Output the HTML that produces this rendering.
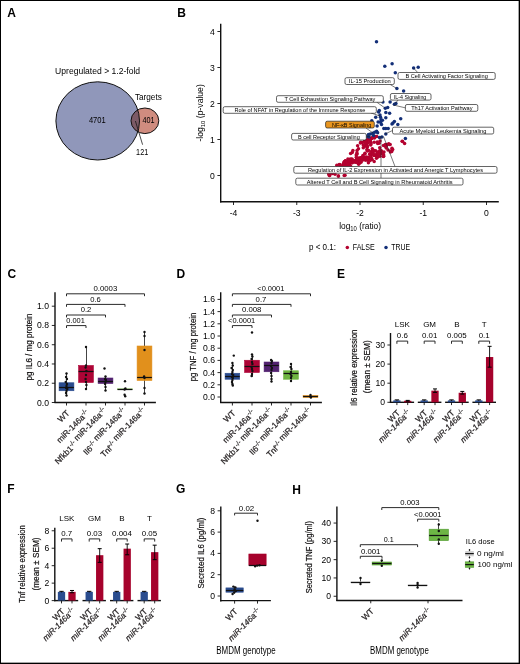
<!DOCTYPE html>
<html><head><meta charset="utf-8"><style>
html,body{margin:0;padding:0;background:#fff;}
body{width:520px;height:664px;overflow:hidden;}
svg{display:block;font-family:"Liberation Sans", sans-serif;}
svg{will-change:transform;}
</style></head><body>
<svg width="520" height="664" viewBox="0 0 520 664">
<rect x="0" y="0" width="520" height="664" fill="#fff"/>
<text x="7.30" y="17.00" font-size="12" font-weight="bold" fill="#000">A</text>
<text x="55.10" y="73.60" font-size="8.3" textLength="85.00" lengthAdjust="spacingAndGlyphs">Upregulated &gt; 1.2-fold</text>
<defs><clipPath id="cbig"><ellipse cx="97.7" cy="120.9" rx="41.8" ry="39.1"/></clipPath></defs>
<ellipse cx="97.7" cy="120.9" rx="41.8" ry="39.1" fill="#9097ba"/>
<ellipse cx="144.9" cy="120.8" rx="13.9" ry="12.8" fill="#d08c7f"/>
<ellipse cx="144.9" cy="120.8" rx="13.9" ry="12.8" fill="#7c5a66" clip-path="url(#cbig)"/>
<ellipse cx="97.7" cy="120.9" rx="41.8" ry="39.1" fill="none" stroke="#111" stroke-width="1.0"/>
<ellipse cx="144.9" cy="120.8" rx="13.9" ry="12.8" fill="none" stroke="#111" stroke-width="1.0"/>
<text x="88.90" y="123.20" font-size="8.7" textLength="16.80" lengthAdjust="spacingAndGlyphs">4701</text>
<text x="142.40" y="123.10" font-size="8.7" textLength="12.10" lengthAdjust="spacingAndGlyphs">401</text>
<text x="134.90" y="99.50" font-size="8.2" textLength="26.90" lengthAdjust="spacingAndGlyphs">Targets</text>
<text x="136.10" y="155.20" font-size="8.7" textLength="12.10" lengthAdjust="spacingAndGlyphs">121</text>
<line x1="135.40" y1="121.00" x2="142.60" y2="144.70" stroke="#111" stroke-width="0.75"/>
<text x="177.30" y="17.40" font-size="12" font-weight="bold" fill="#000">B</text>
<line x1="220.70" y1="23.70" x2="220.70" y2="202.40" stroke="#111111" stroke-width="1.4"/>
<line x1="220.05" y1="201.75" x2="498.80" y2="201.75" stroke="#111111" stroke-width="1.4"/>
<line x1="217.40" y1="175.50" x2="220.70" y2="175.50" stroke="#111111" stroke-width="0.9"/>
<text x="212.30" y="178.50" font-size="8.6" text-anchor="middle">0</text>
<line x1="217.40" y1="139.50" x2="220.70" y2="139.50" stroke="#111111" stroke-width="0.9"/>
<text x="212.30" y="142.50" font-size="8.6" text-anchor="middle">1</text>
<line x1="217.40" y1="103.50" x2="220.70" y2="103.50" stroke="#111111" stroke-width="0.9"/>
<text x="212.30" y="106.50" font-size="8.6" text-anchor="middle">2</text>
<line x1="217.40" y1="67.50" x2="220.70" y2="67.50" stroke="#111111" stroke-width="0.9"/>
<text x="212.30" y="70.50" font-size="8.6" text-anchor="middle">3</text>
<line x1="217.40" y1="31.50" x2="220.70" y2="31.50" stroke="#111111" stroke-width="0.9"/>
<text x="212.30" y="34.50" font-size="8.6" text-anchor="middle">4</text>
<line x1="233.50" y1="201.75" x2="233.50" y2="205.00" stroke="#111111" stroke-width="0.9"/>
<text x="233.50" y="216.20" font-size="8.6" text-anchor="middle">-4</text>
<line x1="296.75" y1="201.75" x2="296.75" y2="205.00" stroke="#111111" stroke-width="0.9"/>
<text x="296.75" y="216.20" font-size="8.6" text-anchor="middle">-3</text>
<line x1="360.00" y1="201.75" x2="360.00" y2="205.00" stroke="#111111" stroke-width="0.9"/>
<text x="360.00" y="216.20" font-size="8.6" text-anchor="middle">-2</text>
<line x1="423.25" y1="201.75" x2="423.25" y2="205.00" stroke="#111111" stroke-width="0.9"/>
<text x="423.25" y="216.20" font-size="8.6" text-anchor="middle">-1</text>
<line x1="486.50" y1="201.75" x2="486.50" y2="205.00" stroke="#111111" stroke-width="0.9"/>
<text x="486.50" y="216.20" font-size="8.6" text-anchor="middle">0</text>
<text x="203.00" y="112.90" font-size="8.6" text-anchor="middle" transform="rotate(-90 203.00 112.90)">-log<tspan font-size="6" dy="1.6">10</tspan><tspan dy="-1.6"> (p-value)</tspan></text>
<text x="339.20" y="228.80" font-size="9.4" textLength="41.80" lengthAdjust="spacingAndGlyphs">log<tspan font-size="6.6" dy="2.0">10</tspan><tspan dy="-2.0"> (ratio)</tspan></text>
<text x="309.00" y="250.30" font-size="8.2" textLength="27.00" lengthAdjust="spacingAndGlyphs">p &lt; 0.1:</text>
<circle cx="347.30" cy="247.60" r="1.75" fill="#b3022f"/>
<text x="352.70" y="250.30" font-size="8.2" textLength="22.10" lengthAdjust="spacingAndGlyphs">FALSE</text>
<circle cx="386.00" cy="247.60" r="1.75" fill="#132f78"/>
<text x="391.20" y="250.30" font-size="8.2" textLength="18.80" lengthAdjust="spacingAndGlyphs">TRUE</text>
<circle cx="356.53" cy="162.31" r="1.75" fill="#b3022f"/>
<circle cx="346.71" cy="166.18" r="1.75" fill="#b3022f"/>
<circle cx="364.28" cy="157.30" r="1.75" fill="#b3022f"/>
<circle cx="363.47" cy="158.72" r="1.75" fill="#b3022f"/>
<circle cx="344.26" cy="163.27" r="1.75" fill="#b3022f"/>
<circle cx="346.73" cy="163.70" r="1.75" fill="#b3022f"/>
<circle cx="360.14" cy="159.72" r="1.75" fill="#b3022f"/>
<circle cx="351.62" cy="160.71" r="1.75" fill="#b3022f"/>
<circle cx="368.95" cy="159.38" r="1.75" fill="#b3022f"/>
<circle cx="358.58" cy="158.61" r="1.75" fill="#b3022f"/>
<circle cx="383.35" cy="156.45" r="1.75" fill="#b3022f"/>
<circle cx="354.98" cy="162.13" r="1.75" fill="#b3022f"/>
<circle cx="349.21" cy="164.09" r="1.75" fill="#b3022f"/>
<circle cx="376.04" cy="155.57" r="1.75" fill="#b3022f"/>
<circle cx="349.38" cy="159.51" r="1.75" fill="#b3022f"/>
<circle cx="357.42" cy="158.31" r="1.75" fill="#b3022f"/>
<circle cx="365.13" cy="158.36" r="1.75" fill="#b3022f"/>
<circle cx="351.33" cy="162.22" r="1.75" fill="#b3022f"/>
<circle cx="369.68" cy="154.28" r="1.75" fill="#b3022f"/>
<circle cx="366.68" cy="158.02" r="1.75" fill="#b3022f"/>
<circle cx="360.75" cy="157.63" r="1.75" fill="#b3022f"/>
<circle cx="372.12" cy="159.48" r="1.75" fill="#b3022f"/>
<circle cx="352.02" cy="159.06" r="1.75" fill="#b3022f"/>
<circle cx="377.63" cy="152.35" r="1.75" fill="#b3022f"/>
<circle cx="371.72" cy="153.93" r="1.75" fill="#b3022f"/>
<circle cx="349.59" cy="169.00" r="1.75" fill="#b3022f"/>
<circle cx="359.74" cy="159.33" r="1.75" fill="#b3022f"/>
<circle cx="362.16" cy="157.13" r="1.75" fill="#b3022f"/>
<circle cx="343.99" cy="162.17" r="1.75" fill="#b3022f"/>
<circle cx="364.90" cy="154.09" r="1.75" fill="#b3022f"/>
<circle cx="377.61" cy="152.24" r="1.75" fill="#b3022f"/>
<circle cx="367.75" cy="160.19" r="1.75" fill="#b3022f"/>
<circle cx="364.93" cy="153.21" r="1.75" fill="#b3022f"/>
<circle cx="381.14" cy="153.83" r="1.75" fill="#b3022f"/>
<circle cx="361.84" cy="158.17" r="1.75" fill="#b3022f"/>
<circle cx="370.85" cy="155.06" r="1.75" fill="#b3022f"/>
<circle cx="370.16" cy="160.49" r="1.75" fill="#b3022f"/>
<circle cx="354.33" cy="160.77" r="1.75" fill="#b3022f"/>
<circle cx="358.36" cy="159.45" r="1.75" fill="#b3022f"/>
<circle cx="361.34" cy="158.32" r="1.75" fill="#b3022f"/>
<circle cx="349.90" cy="162.97" r="1.75" fill="#b3022f"/>
<circle cx="373.89" cy="155.41" r="1.75" fill="#b3022f"/>
<circle cx="348.18" cy="162.92" r="1.75" fill="#b3022f"/>
<circle cx="378.54" cy="155.79" r="1.75" fill="#b3022f"/>
<circle cx="345.40" cy="160.86" r="1.75" fill="#b3022f"/>
<circle cx="378.61" cy="154.33" r="1.75" fill="#b3022f"/>
<circle cx="376.14" cy="155.42" r="1.75" fill="#b3022f"/>
<circle cx="359.19" cy="157.97" r="1.75" fill="#b3022f"/>
<circle cx="358.64" cy="164.14" r="1.75" fill="#b3022f"/>
<circle cx="347.89" cy="158.94" r="1.75" fill="#b3022f"/>
<circle cx="350.11" cy="162.48" r="1.75" fill="#b3022f"/>
<circle cx="362.90" cy="160.03" r="1.75" fill="#b3022f"/>
<circle cx="366.56" cy="157.12" r="1.75" fill="#b3022f"/>
<circle cx="359.82" cy="159.46" r="1.75" fill="#b3022f"/>
<circle cx="356.22" cy="154.92" r="1.75" fill="#b3022f"/>
<circle cx="369.93" cy="153.67" r="1.75" fill="#b3022f"/>
<circle cx="362.86" cy="155.62" r="1.75" fill="#b3022f"/>
<circle cx="344.47" cy="161.60" r="1.75" fill="#b3022f"/>
<circle cx="379.24" cy="154.09" r="1.75" fill="#b3022f"/>
<circle cx="373.54" cy="150.13" r="1.75" fill="#b3022f"/>
<circle cx="358.44" cy="158.77" r="1.75" fill="#b3022f"/>
<circle cx="368.56" cy="157.18" r="1.75" fill="#b3022f"/>
<circle cx="345.92" cy="165.09" r="1.75" fill="#b3022f"/>
<circle cx="349.68" cy="163.09" r="1.75" fill="#b3022f"/>
<circle cx="356.62" cy="160.29" r="1.75" fill="#b3022f"/>
<circle cx="349.06" cy="162.62" r="1.75" fill="#b3022f"/>
<circle cx="346.96" cy="162.90" r="1.75" fill="#b3022f"/>
<circle cx="378.09" cy="153.95" r="1.75" fill="#b3022f"/>
<circle cx="367.87" cy="157.82" r="1.75" fill="#b3022f"/>
<circle cx="357.32" cy="161.50" r="1.75" fill="#b3022f"/>
<circle cx="358.52" cy="163.01" r="1.75" fill="#b3022f"/>
<circle cx="383.65" cy="155.06" r="1.75" fill="#b3022f"/>
<circle cx="361.35" cy="157.75" r="1.75" fill="#b3022f"/>
<circle cx="347.12" cy="163.32" r="1.75" fill="#b3022f"/>
<circle cx="356.59" cy="159.84" r="1.75" fill="#b3022f"/>
<circle cx="350.74" cy="166.59" r="1.75" fill="#b3022f"/>
<circle cx="344.73" cy="166.78" r="1.75" fill="#b3022f"/>
<circle cx="348.61" cy="161.85" r="1.75" fill="#b3022f"/>
<circle cx="365.56" cy="160.36" r="1.75" fill="#b3022f"/>
<circle cx="382.28" cy="152.72" r="1.75" fill="#b3022f"/>
<circle cx="377.36" cy="153.14" r="1.75" fill="#b3022f"/>
<circle cx="357.16" cy="158.31" r="1.75" fill="#b3022f"/>
<circle cx="349.80" cy="162.78" r="1.75" fill="#b3022f"/>
<circle cx="373.32" cy="152.08" r="1.75" fill="#b3022f"/>
<circle cx="356.40" cy="161.06" r="1.75" fill="#b3022f"/>
<circle cx="383.63" cy="156.14" r="1.75" fill="#b3022f"/>
<circle cx="377.54" cy="155.24" r="1.75" fill="#b3022f"/>
<circle cx="371.41" cy="151.45" r="1.75" fill="#b3022f"/>
<circle cx="351.43" cy="159.62" r="1.75" fill="#b3022f"/>
<circle cx="344.09" cy="163.91" r="1.75" fill="#b3022f"/>
<circle cx="344.02" cy="163.84" r="1.75" fill="#b3022f"/>
<circle cx="371.22" cy="157.51" r="1.75" fill="#b3022f"/>
<circle cx="379.74" cy="147.66" r="1.75" fill="#b3022f"/>
<circle cx="383.05" cy="153.83" r="1.75" fill="#b3022f"/>
<circle cx="380.88" cy="151.54" r="1.75" fill="#b3022f"/>
<circle cx="352.44" cy="162.83" r="1.75" fill="#b3022f"/>
<circle cx="351.14" cy="162.91" r="1.75" fill="#b3022f"/>
<circle cx="379.93" cy="156.19" r="1.75" fill="#b3022f"/>
<circle cx="375.63" cy="150.83" r="1.75" fill="#b3022f"/>
<circle cx="375.11" cy="154.92" r="1.75" fill="#b3022f"/>
<circle cx="345.59" cy="160.88" r="1.75" fill="#b3022f"/>
<circle cx="373.02" cy="150.65" r="1.75" fill="#b3022f"/>
<circle cx="372.58" cy="153.76" r="1.75" fill="#b3022f"/>
<circle cx="374.62" cy="154.83" r="1.75" fill="#b3022f"/>
<circle cx="356.88" cy="162.18" r="1.75" fill="#b3022f"/>
<circle cx="357.09" cy="153.99" r="1.75" fill="#b3022f"/>
<circle cx="360.10" cy="162.81" r="1.75" fill="#b3022f"/>
<circle cx="349.44" cy="161.22" r="1.75" fill="#b3022f"/>
<circle cx="348.95" cy="165.68" r="1.75" fill="#b3022f"/>
<circle cx="376.47" cy="158.29" r="1.75" fill="#b3022f"/>
<circle cx="349.74" cy="165.52" r="1.75" fill="#b3022f"/>
<circle cx="367.59" cy="150.83" r="1.75" fill="#b3022f"/>
<circle cx="356.67" cy="159.01" r="1.75" fill="#b3022f"/>
<circle cx="343.46" cy="163.97" r="1.75" fill="#b3022f"/>
<circle cx="381.34" cy="150.78" r="1.75" fill="#b3022f"/>
<circle cx="379.67" cy="150.66" r="1.75" fill="#b3022f"/>
<circle cx="361.24" cy="161.92" r="1.75" fill="#b3022f"/>
<circle cx="350.52" cy="158.90" r="1.75" fill="#b3022f"/>
<circle cx="352.94" cy="160.92" r="1.75" fill="#b3022f"/>
<circle cx="366.95" cy="158.74" r="1.75" fill="#b3022f"/>
<circle cx="353.06" cy="160.24" r="1.75" fill="#b3022f"/>
<circle cx="379.58" cy="153.69" r="1.75" fill="#b3022f"/>
<circle cx="356.27" cy="157.27" r="1.75" fill="#b3022f"/>
<circle cx="379.41" cy="153.95" r="1.75" fill="#b3022f"/>
<circle cx="360.53" cy="161.49" r="1.75" fill="#b3022f"/>
<circle cx="365.87" cy="145.37" r="1.75" fill="#b3022f"/>
<circle cx="367.03" cy="149.17" r="1.75" fill="#b3022f"/>
<circle cx="357.05" cy="150.45" r="1.75" fill="#b3022f"/>
<circle cx="352.26" cy="152.38" r="1.75" fill="#b3022f"/>
<circle cx="364.30" cy="145.95" r="1.75" fill="#b3022f"/>
<circle cx="370.89" cy="142.87" r="1.75" fill="#b3022f"/>
<circle cx="365.74" cy="146.12" r="1.75" fill="#b3022f"/>
<circle cx="367.08" cy="146.67" r="1.75" fill="#b3022f"/>
<circle cx="366.74" cy="145.36" r="1.75" fill="#b3022f"/>
<circle cx="358.47" cy="148.86" r="1.75" fill="#b3022f"/>
<circle cx="367.12" cy="150.74" r="1.75" fill="#b3022f"/>
<circle cx="367.28" cy="146.69" r="1.75" fill="#b3022f"/>
<circle cx="362.13" cy="142.61" r="1.75" fill="#b3022f"/>
<circle cx="367.54" cy="143.18" r="1.75" fill="#b3022f"/>
<circle cx="370.67" cy="144.98" r="1.75" fill="#b3022f"/>
<circle cx="363.28" cy="144.97" r="1.75" fill="#b3022f"/>
<circle cx="377.22" cy="142.05" r="1.75" fill="#b3022f"/>
<circle cx="372.30" cy="148.84" r="1.75" fill="#b3022f"/>
<circle cx="357.62" cy="145.64" r="1.75" fill="#b3022f"/>
<circle cx="368.60" cy="150.44" r="1.75" fill="#b3022f"/>
<circle cx="385.76" cy="145.21" r="1.75" fill="#b3022f"/>
<circle cx="385.33" cy="145.44" r="1.75" fill="#b3022f"/>
<circle cx="385.79" cy="146.84" r="1.75" fill="#b3022f"/>
<circle cx="385.42" cy="144.55" r="1.75" fill="#b3022f"/>
<circle cx="392.69" cy="149.55" r="1.75" fill="#b3022f"/>
<circle cx="385.54" cy="145.73" r="1.75" fill="#b3022f"/>
<circle cx="386.56" cy="144.38" r="1.75" fill="#b3022f"/>
<circle cx="390.38" cy="151.96" r="1.75" fill="#b3022f"/>
<circle cx="391.76" cy="151.51" r="1.75" fill="#b3022f"/>
<circle cx="390.17" cy="144.38" r="1.75" fill="#b3022f"/>
<circle cx="390.42" cy="151.10" r="1.75" fill="#b3022f"/>
<circle cx="386.37" cy="144.89" r="1.75" fill="#b3022f"/>
<circle cx="386.22" cy="147.94" r="1.75" fill="#b3022f"/>
<circle cx="386.23" cy="145.62" r="1.75" fill="#b3022f"/>
<circle cx="364.82" cy="142.56" r="1.75" fill="#b3022f"/>
<circle cx="371.13" cy="138.31" r="1.75" fill="#b3022f"/>
<circle cx="368.34" cy="139.59" r="1.75" fill="#b3022f"/>
<circle cx="371.97" cy="137.78" r="1.75" fill="#b3022f"/>
<circle cx="376.80" cy="136.54" r="1.75" fill="#b3022f"/>
<circle cx="374.43" cy="137.98" r="1.75" fill="#b3022f"/>
<circle cx="367.42" cy="139.71" r="1.75" fill="#b3022f"/>
<circle cx="364.57" cy="140.99" r="1.75" fill="#b3022f"/>
<circle cx="365.38" cy="139.53" r="1.75" fill="#b3022f"/>
<circle cx="370.11" cy="140.88" r="1.75" fill="#b3022f"/>
<circle cx="366.98" cy="138.73" r="1.75" fill="#b3022f"/>
<circle cx="366.39" cy="141.62" r="1.75" fill="#b3022f"/>
<circle cx="340.60" cy="166.99" r="1.75" fill="#b3022f"/>
<circle cx="329.71" cy="175.59" r="1.75" fill="#b3022f"/>
<circle cx="335.85" cy="171.19" r="1.75" fill="#b3022f"/>
<circle cx="329.29" cy="175.59" r="1.75" fill="#b3022f"/>
<circle cx="342.69" cy="166.16" r="1.75" fill="#b3022f"/>
<circle cx="328.82" cy="174.02" r="1.75" fill="#b3022f"/>
<circle cx="344.07" cy="165.91" r="1.75" fill="#b3022f"/>
<circle cx="335.64" cy="169.28" r="1.75" fill="#b3022f"/>
<circle cx="346.23" cy="167.15" r="1.75" fill="#b3022f"/>
<circle cx="332.90" cy="173.10" r="1.75" fill="#b3022f"/>
<circle cx="332.34" cy="173.44" r="1.75" fill="#b3022f"/>
<circle cx="329.30" cy="173.69" r="1.75" fill="#b3022f"/>
<circle cx="339.04" cy="168.77" r="1.75" fill="#b3022f"/>
<circle cx="339.91" cy="166.71" r="1.75" fill="#b3022f"/>
<circle cx="341.32" cy="169.89" r="1.75" fill="#b3022f"/>
<circle cx="343.32" cy="166.56" r="1.75" fill="#b3022f"/>
<circle cx="336.91" cy="171.01" r="1.75" fill="#b3022f"/>
<circle cx="340.79" cy="170.24" r="1.75" fill="#b3022f"/>
<circle cx="343.84" cy="165.81" r="1.75" fill="#b3022f"/>
<circle cx="336.82" cy="165.28" r="1.75" fill="#b3022f"/>
<circle cx="337.78" cy="169.66" r="1.75" fill="#b3022f"/>
<circle cx="346.62" cy="161.97" r="1.75" fill="#b3022f"/>
<circle cx="348.07" cy="163.99" r="1.75" fill="#b3022f"/>
<circle cx="340.29" cy="164.74" r="1.75" fill="#b3022f"/>
<circle cx="349.70" cy="162.05" r="1.75" fill="#b3022f"/>
<circle cx="341.41" cy="168.33" r="1.75" fill="#b3022f"/>
<circle cx="375.70" cy="136.50" r="1.75" fill="#b3022f"/>
<circle cx="371.80" cy="138.50" r="1.75" fill="#b3022f"/>
<circle cx="365.60" cy="141.30" r="1.75" fill="#b3022f"/>
<circle cx="360.80" cy="142.30" r="1.75" fill="#b3022f"/>
<circle cx="370.40" cy="141.30" r="1.75" fill="#b3022f"/>
<circle cx="374.20" cy="142.30" r="1.75" fill="#b3022f"/>
<circle cx="379.00" cy="143.30" r="1.75" fill="#b3022f"/>
<circle cx="388.70" cy="143.80" r="1.75" fill="#b3022f"/>
<circle cx="402.10" cy="141.30" r="1.75" fill="#b3022f"/>
<circle cx="360.40" cy="143.10" r="1.75" fill="#b3022f"/>
<circle cx="365.00" cy="141.90" r="1.75" fill="#b3022f"/>
<circle cx="369.60" cy="140.80" r="1.75" fill="#b3022f"/>
<circle cx="374.20" cy="137.30" r="1.75" fill="#b3022f"/>
<circle cx="363.30" cy="147.70" r="1.75" fill="#b3022f"/>
<circle cx="367.30" cy="146.50" r="1.75" fill="#b3022f"/>
<circle cx="352.90" cy="150.60" r="1.75" fill="#b3022f"/>
<circle cx="350.60" cy="153.50" r="1.75" fill="#b3022f"/>
<circle cx="356.90" cy="152.90" r="1.75" fill="#b3022f"/>
<circle cx="329.20" cy="174.20" r="1.75" fill="#b3022f"/>
<circle cx="335.00" cy="174.20" r="1.75" fill="#b3022f"/>
<circle cx="338.50" cy="176.00" r="1.75" fill="#b3022f"/>
<circle cx="344.20" cy="175.40" r="1.75" fill="#b3022f"/>
<circle cx="377.70" cy="156.90" r="1.75" fill="#b3022f"/>
<circle cx="374.20" cy="161.50" r="1.75" fill="#b3022f"/>
<circle cx="368.40" cy="162.70" r="1.75" fill="#b3022f"/>
<circle cx="402.70" cy="141.50" r="1.75" fill="#b3022f"/>
<circle cx="404.60" cy="143.50" r="1.75" fill="#b3022f"/>
<circle cx="389.20" cy="144.40" r="1.75" fill="#b3022f"/>
<circle cx="392.00" cy="148.30" r="1.75" fill="#b3022f"/>
<circle cx="383.50" cy="145.40" r="1.75" fill="#b3022f"/>
<circle cx="377.70" cy="143.50" r="1.75" fill="#b3022f"/>
<circle cx="338.30" cy="176.00" r="1.75" fill="#b3022f"/>
<circle cx="345.00" cy="175.20" r="1.75" fill="#b3022f"/>
<circle cx="339.20" cy="164.60" r="1.75" fill="#b3022f"/>
<circle cx="348.80" cy="160.80" r="1.75" fill="#b3022f"/>
<circle cx="388.00" cy="150.00" r="1.75" fill="#b3022f"/>
<circle cx="384.00" cy="152.00" r="1.75" fill="#b3022f"/>
<circle cx="380.00" cy="141.00" r="1.75" fill="#b3022f"/>
<circle cx="371.00" cy="144.00" r="1.75" fill="#b3022f"/>
<circle cx="376.50" cy="41.80" r="1.75" fill="#132f78"/>
<circle cx="384.80" cy="66.30" r="1.75" fill="#132f78"/>
<circle cx="392.10" cy="63.70" r="1.75" fill="#132f78"/>
<circle cx="395.30" cy="72.70" r="1.75" fill="#132f78"/>
<circle cx="413.60" cy="68.10" r="1.75" fill="#132f78"/>
<circle cx="418.20" cy="67.20" r="1.75" fill="#132f78"/>
<circle cx="396.90" cy="88.60" r="1.75" fill="#132f78"/>
<circle cx="403.60" cy="90.90" r="1.75" fill="#132f78"/>
<circle cx="382.90" cy="101.90" r="1.75" fill="#132f78"/>
<circle cx="390.10" cy="101.90" r="1.75" fill="#132f78"/>
<circle cx="394.40" cy="104.30" r="1.75" fill="#132f78"/>
<circle cx="395.90" cy="103.40" r="1.75" fill="#132f78"/>
<circle cx="385.30" cy="108.20" r="1.75" fill="#132f78"/>
<circle cx="387.70" cy="107.50" r="1.75" fill="#132f78"/>
<circle cx="378.60" cy="112.00" r="1.75" fill="#132f78"/>
<circle cx="385.80" cy="112.50" r="1.75" fill="#132f78"/>
<circle cx="389.60" cy="113.30" r="1.75" fill="#132f78"/>
<circle cx="380.00" cy="114.90" r="1.75" fill="#132f78"/>
<circle cx="375.70" cy="117.30" r="1.75" fill="#132f78"/>
<circle cx="380.50" cy="117.30" r="1.75" fill="#132f78"/>
<circle cx="385.80" cy="117.80" r="1.75" fill="#132f78"/>
<circle cx="381.00" cy="119.70" r="1.75" fill="#132f78"/>
<circle cx="382.40" cy="120.20" r="1.75" fill="#132f78"/>
<circle cx="400.70" cy="118.80" r="1.75" fill="#132f78"/>
<circle cx="378.10" cy="122.10" r="1.75" fill="#132f78"/>
<circle cx="380.50" cy="122.30" r="1.75" fill="#132f78"/>
<circle cx="371.80" cy="120.70" r="1.75" fill="#132f78"/>
<circle cx="394.40" cy="121.60" r="1.75" fill="#132f78"/>
<circle cx="393.00" cy="123.10" r="1.75" fill="#132f78"/>
<circle cx="392.00" cy="124.00" r="1.75" fill="#132f78"/>
<circle cx="397.80" cy="124.50" r="1.75" fill="#132f78"/>
<circle cx="377.10" cy="126.00" r="1.75" fill="#132f78"/>
<circle cx="383.80" cy="128.40" r="1.75" fill="#132f78"/>
<circle cx="385.80" cy="128.40" r="1.75" fill="#132f78"/>
<circle cx="388.20" cy="128.40" r="1.75" fill="#132f78"/>
<circle cx="376.60" cy="131.30" r="1.75" fill="#132f78"/>
<circle cx="374.70" cy="132.20" r="1.75" fill="#132f78"/>
<circle cx="372.80" cy="133.20" r="1.75" fill="#132f78"/>
<circle cx="370.40" cy="134.10" r="1.75" fill="#132f78"/>
<circle cx="368.50" cy="134.60" r="1.75" fill="#132f78"/>
<circle cx="377.60" cy="132.70" r="1.75" fill="#132f78"/>
<circle cx="385.80" cy="134.10" r="1.75" fill="#132f78"/>
<circle cx="379.50" cy="137.50" r="1.75" fill="#132f78"/>
<circle cx="381.90" cy="137.00" r="1.75" fill="#132f78"/>
<circle cx="369.00" cy="137.00" r="1.75" fill="#132f78"/>
<circle cx="405.40" cy="138.50" r="1.75" fill="#132f78"/>
<circle cx="379.30" cy="110.50" r="1.75" fill="#132f78"/>
<circle cx="381.50" cy="124.50" r="1.75" fill="#132f78"/>
<circle cx="373.50" cy="135.50" r="1.75" fill="#132f78"/>
<circle cx="366.50" cy="136.50" r="1.75" fill="#132f78"/>
<line x1="413.60" y1="68.10" x2="417.70" y2="72.50" stroke="#222" stroke-width="0.6"/>
<line x1="390.20" y1="84.50" x2="396.90" y2="88.60" stroke="#222" stroke-width="0.6"/>
<line x1="398.00" y1="100.10" x2="395.20" y2="103.60" stroke="#222" stroke-width="0.6"/>
<line x1="376.70" y1="102.10" x2="384.80" y2="107.90" stroke="#222" stroke-width="0.6"/>
<line x1="393.40" y1="105.00" x2="405.60" y2="107.90" stroke="#222" stroke-width="0.6"/>
<line x1="371.00" y1="113.00" x2="380.00" y2="116.00" stroke="#222" stroke-width="0.6"/>
<line x1="366.00" y1="128.00" x2="373.00" y2="133.00" stroke="#222" stroke-width="0.6"/>
<line x1="392.50" y1="130.50" x2="385.00" y2="134.00" stroke="#222" stroke-width="0.6"/>
<line x1="366.20" y1="137.00" x2="370.00" y2="136.00" stroke="#222" stroke-width="0.6"/>
<line x1="381.00" y1="136.00" x2="381.00" y2="166.50" stroke="#222" stroke-width="0.6"/>
<line x1="383.50" y1="136.50" x2="395.00" y2="166.50" stroke="#222" stroke-width="0.6"/>
<line x1="381.00" y1="173.00" x2="381.00" y2="178.00" stroke="#222" stroke-width="0.6"/>
<rect x="398.00" y="72.50" width="97.20" height="6.90" fill="#fff" stroke="#222" stroke-width="0.7" rx="1.6"/>
<text x="405.50" y="78.10" font-size="6.0" textLength="82.30" lengthAdjust="spacingAndGlyphs">B Cell Activating Factor Signaling</text>
<rect x="345.00" y="77.70" width="49.30" height="6.80" fill="#fff" stroke="#222" stroke-width="0.7" rx="1.6"/>
<text x="348.80" y="83.20" font-size="6.0" textLength="42.00" lengthAdjust="spacingAndGlyphs">IL-15 Production</text>
<rect x="390.40" y="93.50" width="40.60" height="6.60" fill="#fff" stroke="#222" stroke-width="0.7" rx="1.6"/>
<text x="393.80" y="98.80" font-size="6.0" textLength="32.50" lengthAdjust="spacingAndGlyphs">IL-4 Signaling</text>
<rect x="276.50" y="95.70" width="106.80" height="6.60" fill="#fff" stroke="#222" stroke-width="0.7" rx="1.6"/>
<text x="284.50" y="101.00" font-size="6.0" textLength="90.90" lengthAdjust="spacingAndGlyphs">T Cell Exhaustion Signaling Pathway</text>
<rect x="223.20" y="106.70" width="153.10" height="6.60" fill="#fff" stroke="#222" stroke-width="0.7" rx="1.6"/>
<text x="234.40" y="112.00" font-size="6.0" textLength="131.00" lengthAdjust="spacingAndGlyphs">Role of NFAT in Regulation of the Immune Response</text>
<rect x="405.40" y="104.50" width="72.40" height="6.80" fill="#fff" stroke="#222" stroke-width="0.7" rx="1.6"/>
<text x="411.20" y="110.00" font-size="6.0" textLength="61.30" lengthAdjust="spacingAndGlyphs">Th17 Activation Pathway</text>
<rect x="325.60" y="121.20" width="48.70" height="6.80" fill="#e8951f" stroke="#222" stroke-width="0.7" rx="1.6"/>
<text x="332.10" y="126.70" font-size="6.0" textLength="39.30" lengthAdjust="spacingAndGlyphs">NF-κB Signaling</text>
<rect x="392.50" y="127.20" width="101.20" height="6.80" fill="#fff" stroke="#222" stroke-width="0.7" rx="1.6"/>
<text x="399.50" y="132.70" font-size="6.0" textLength="86.80" lengthAdjust="spacingAndGlyphs">Acute Myeloid Leukemia Signaling</text>
<rect x="291.60" y="133.40" width="74.70" height="6.60" fill="#fff" stroke="#222" stroke-width="0.7" rx="1.6"/>
<text x="297.90" y="138.70" font-size="6.0" textLength="61.90" lengthAdjust="spacingAndGlyphs">B cell Receptor Signaling</text>
<rect x="293.80" y="166.50" width="203.20" height="6.70" fill="#fff" stroke="#222" stroke-width="0.7" rx="1.6"/>
<text x="308.00" y="171.90" font-size="6.0" textLength="175.00" lengthAdjust="spacingAndGlyphs">Regulation of IL-2 Expression in Activated and Anergic T Lymphocytes</text>
<rect x="295.80" y="178.20" width="167.20" height="6.80" fill="#fff" stroke="#222" stroke-width="0.7" rx="1.6"/>
<text x="306.80" y="183.70" font-size="6.0" textLength="145.70" lengthAdjust="spacingAndGlyphs">Altered T Cell and B Cell Signaling in Rheumatoid Arthritis</text>
<text x="7.50" y="277.70" font-size="12" font-weight="bold" fill="#000">C</text>
<line x1="55.00" y1="292.30" x2="55.00" y2="403.10" stroke="#111111" stroke-width="1.4"/>
<line x1="54.40" y1="402.50" x2="155.90" y2="402.50" stroke="#111111" stroke-width="1.4"/>
<line x1="51.80" y1="402.50" x2="55.00" y2="402.50" stroke="#111111" stroke-width="0.9"/>
<text x="49.00" y="405.50" font-size="8.6" text-anchor="end">0.0</text>
<line x1="51.80" y1="383.24" x2="55.00" y2="383.24" stroke="#111111" stroke-width="0.9"/>
<text x="49.00" y="386.24" font-size="8.6" text-anchor="end">0.2</text>
<line x1="51.80" y1="363.98" x2="55.00" y2="363.98" stroke="#111111" stroke-width="0.9"/>
<text x="49.00" y="366.98" font-size="8.6" text-anchor="end">0.4</text>
<line x1="51.80" y1="344.72" x2="55.00" y2="344.72" stroke="#111111" stroke-width="0.9"/>
<text x="49.00" y="347.72" font-size="8.6" text-anchor="end">0.6</text>
<line x1="51.80" y1="325.46" x2="55.00" y2="325.46" stroke="#111111" stroke-width="0.9"/>
<text x="49.00" y="328.46" font-size="8.6" text-anchor="end">0.8</text>
<line x1="51.80" y1="306.20" x2="55.00" y2="306.20" stroke="#111111" stroke-width="0.9"/>
<text x="49.00" y="309.20" font-size="8.6" text-anchor="end">1.0</text>
<line x1="66.50" y1="402.50" x2="66.50" y2="405.50" stroke="#111111" stroke-width="0.9"/>
<line x1="86.00" y1="402.50" x2="86.00" y2="405.50" stroke="#111111" stroke-width="0.9"/>
<line x1="105.50" y1="402.50" x2="105.50" y2="405.50" stroke="#111111" stroke-width="0.9"/>
<line x1="125.00" y1="402.50" x2="125.00" y2="405.50" stroke="#111111" stroke-width="0.9"/>
<line x1="144.50" y1="402.50" x2="144.50" y2="405.50" stroke="#111111" stroke-width="0.9"/>
<text x="31.60" y="347.00" font-size="8.6" text-anchor="middle" textLength="67.00" lengthAdjust="spacingAndGlyphs" transform="rotate(-90 31.60 347.00)" stroke="#231f20" stroke-width="0.2">pg IL6 / mg protein</text>
<path d="M66.50 327.60V325.60H86.00V327.60" fill="none" stroke="#2a2a2a" stroke-width="1.0" stroke-linecap="round" stroke-linejoin="round"/>
<path d="M66.50 317.00V315.00H105.50V317.00" fill="none" stroke="#2a2a2a" stroke-width="1.0" stroke-linecap="round" stroke-linejoin="round"/>
<path d="M66.50 306.40V304.40H125.00V306.40" fill="none" stroke="#2a2a2a" stroke-width="1.0" stroke-linecap="round" stroke-linejoin="round"/>
<path d="M66.50 295.80V293.80H144.50V295.80" fill="none" stroke="#2a2a2a" stroke-width="1.0" stroke-linecap="round" stroke-linejoin="round"/>
<text x="66.30" y="323.10" font-size="7.6" textLength="18.60" lengthAdjust="spacingAndGlyphs">0.001</text>
<text x="80.70" y="312.40" font-size="7.6" textLength="10.60" lengthAdjust="spacingAndGlyphs">0.2</text>
<text x="90.20" y="301.70" font-size="7.6" textLength="10.60" lengthAdjust="spacingAndGlyphs">0.6</text>
<text x="93.40" y="291.10" font-size="7.6" textLength="23.90" lengthAdjust="spacingAndGlyphs">0.0003</text>
<line x1="66.50" y1="373.00" x2="66.50" y2="395.50" stroke="#222" stroke-width="0.85"/>
<rect x="59.10" y="382.75" width="14.80" height="8.00" fill="#2a4c8e" stroke="#2a4c8e" stroke-width="0.6"/>
<line x1="59.10" y1="387.50" x2="73.90" y2="387.50" stroke="#111" stroke-width="1.25"/>
<circle cx="66.50" cy="373.50" r="1.2" fill="#111"/>
<circle cx="66.10" cy="377.00" r="1.2" fill="#111"/>
<circle cx="66.90" cy="379.00" r="1.2" fill="#111"/>
<circle cx="65.70" cy="382.00" r="1.2" fill="#111"/>
<circle cx="66.90" cy="384.00" r="1.2" fill="#111"/>
<circle cx="66.50" cy="386.00" r="1.2" fill="#111"/>
<circle cx="66.10" cy="388.00" r="1.2" fill="#111"/>
<circle cx="67.30" cy="389.00" r="1.2" fill="#111"/>
<circle cx="66.50" cy="391.00" r="1.2" fill="#111"/>
<circle cx="66.10" cy="393.00" r="1.2" fill="#111"/>
<circle cx="66.50" cy="395.50" r="1.2" fill="#111"/>
<line x1="86.50" y1="346.50" x2="86.50" y2="389.25" stroke="#222" stroke-width="0.85"/>
<rect x="78.60" y="365.50" width="14.80" height="17.00" fill="#ad0436" stroke="#ad0436" stroke-width="0.6"/>
<line x1="78.60" y1="371.50" x2="93.40" y2="371.50" stroke="#111" stroke-width="1.25"/>
<circle cx="86.00" cy="347.00" r="1.2" fill="#111"/>
<circle cx="86.00" cy="365.50" r="1.2" fill="#111"/>
<circle cx="85.60" cy="367.50" r="1.2" fill="#111"/>
<circle cx="86.40" cy="371.00" r="1.2" fill="#111"/>
<circle cx="86.00" cy="375.00" r="1.2" fill="#111"/>
<circle cx="85.60" cy="379.00" r="1.2" fill="#111"/>
<circle cx="86.00" cy="382.00" r="1.2" fill="#111"/>
<circle cx="86.40" cy="385.00" r="1.2" fill="#111"/>
<circle cx="86.00" cy="389.00" r="1.2" fill="#111"/>
<line x1="105.50" y1="376.30" x2="105.50" y2="390.75" stroke="#222" stroke-width="0.85"/>
<rect x="98.10" y="378.00" width="14.80" height="5.50" fill="#522270" stroke="#522270" stroke-width="0.6"/>
<line x1="98.10" y1="381.50" x2="112.90" y2="381.50" stroke="#111" stroke-width="1.25"/>
<circle cx="104.50" cy="368.50" r="1.2" fill="#111"/>
<circle cx="105.50" cy="376.50" r="1.2" fill="#111"/>
<circle cx="105.10" cy="379.00" r="1.2" fill="#111"/>
<circle cx="105.90" cy="380.00" r="1.2" fill="#111"/>
<circle cx="105.50" cy="382.00" r="1.2" fill="#111"/>
<circle cx="105.10" cy="384.00" r="1.2" fill="#111"/>
<circle cx="105.50" cy="387.00" r="1.2" fill="#111"/>
<circle cx="105.50" cy="390.50" r="1.2" fill="#111"/>
<line x1="125.50" y1="389.20" x2="125.50" y2="389.30" stroke="#222" stroke-width="0.85"/>
<rect x="117.60" y="388.90" width="14.80" height="0.70" fill="#6fb541" stroke="#6fb541" stroke-width="0.6"/>
<line x1="117.60" y1="389.50" x2="132.40" y2="389.50" stroke="#111" stroke-width="1.25"/>
<circle cx="125.00" cy="381.30" r="1.2" fill="#111"/>
<circle cx="125.40" cy="388.50" r="1.2" fill="#111"/>
<circle cx="124.60" cy="389.50" r="1.2" fill="#111"/>
<circle cx="124.60" cy="394.80" r="1.2" fill="#111"/>
<circle cx="125.20" cy="396.30" r="1.2" fill="#111"/>
<line x1="144.50" y1="332.00" x2="144.50" y2="393.50" stroke="#222" stroke-width="0.85"/>
<rect x="137.10" y="346.00" width="14.80" height="34.50" fill="#e1901c" stroke="#e1901c" stroke-width="0.6"/>
<line x1="137.10" y1="377.50" x2="151.90" y2="377.50" stroke="#111" stroke-width="1.25"/>
<circle cx="144.50" cy="332.00" r="1.2" fill="#111"/>
<circle cx="144.50" cy="336.00" r="1.2" fill="#111"/>
<circle cx="144.50" cy="350.00" r="1.2" fill="#111"/>
<circle cx="144.10" cy="376.50" r="1.2" fill="#111"/>
<circle cx="144.50" cy="378.00" r="1.2" fill="#111"/>
<circle cx="144.50" cy="388.00" r="1.2" fill="#111"/>
<circle cx="144.50" cy="393.50" r="1.2" fill="#111"/>
<text x="70.10" y="413.70" font-size="8.3" text-anchor="end" fill="#231f20" stroke="#231f20" stroke-width="0.22" transform="rotate(-45 70.10 413.70)">WT</text>
<text x="89.60" y="413.70" font-size="8.3" text-anchor="end" fill="#231f20" stroke="#231f20" stroke-width="0.22" transform="rotate(-45 89.60 413.70)">miR-146a<tspan font-size="6.4" dy="-3.1" font-style="normal" fill="#555">-/-</tspan><tspan dy="3.1"></tspan></text>
<text x="109.10" y="413.70" font-size="8.3" text-anchor="end" fill="#231f20" stroke="#231f20" stroke-width="0.22" transform="rotate(-45 109.10 413.70)">Nfkb1<tspan font-size="6.4" dy="-3.1" font-style="normal" fill="#555">-/-</tspan><tspan dy="3.1"></tspan> miR-146a<tspan font-size="6.4" dy="-3.1" font-style="normal" fill="#555">-/-</tspan><tspan dy="3.1"></tspan></text>
<text x="128.60" y="413.70" font-size="8.3" text-anchor="end" fill="#231f20" stroke="#231f20" stroke-width="0.22" transform="rotate(-45 128.60 413.70)">Il6<tspan font-size="6.4" dy="-3.1" font-style="normal" fill="#555">-/-</tspan><tspan dy="3.1"></tspan> miR-146a<tspan font-size="6.4" dy="-3.1" font-style="normal" fill="#555">-/-</tspan><tspan dy="3.1"></tspan></text>
<text x="148.10" y="413.70" font-size="8.3" text-anchor="end" fill="#231f20" stroke="#231f20" stroke-width="0.22" transform="rotate(-45 148.10 413.70)">Tnf<tspan font-size="6.4" dy="-3.1" font-style="normal" fill="#555">-/-</tspan><tspan dy="3.1"></tspan> miR-146a<tspan font-size="6.4" dy="-3.1" font-style="normal" fill="#555">-/-</tspan><tspan dy="3.1"></tspan></text>
<text x="176.50" y="277.70" font-size="12" font-weight="bold" fill="#000">D</text>
<line x1="220.70" y1="292.30" x2="220.70" y2="403.10" stroke="#111111" stroke-width="1.4"/>
<line x1="220.10" y1="402.50" x2="321.90" y2="402.50" stroke="#111111" stroke-width="1.4"/>
<line x1="217.50" y1="397.00" x2="220.70" y2="397.00" stroke="#111111" stroke-width="0.9"/>
<text x="215.00" y="400.00" font-size="8.6" text-anchor="end">0.0</text>
<line x1="217.50" y1="384.80" x2="220.70" y2="384.80" stroke="#111111" stroke-width="0.9"/>
<text x="215.00" y="387.80" font-size="8.6" text-anchor="end">0.2</text>
<line x1="217.50" y1="372.60" x2="220.70" y2="372.60" stroke="#111111" stroke-width="0.9"/>
<text x="215.00" y="375.60" font-size="8.6" text-anchor="end">0.4</text>
<line x1="217.50" y1="360.40" x2="220.70" y2="360.40" stroke="#111111" stroke-width="0.9"/>
<text x="215.00" y="363.40" font-size="8.6" text-anchor="end">0.6</text>
<line x1="217.50" y1="348.20" x2="220.70" y2="348.20" stroke="#111111" stroke-width="0.9"/>
<text x="215.00" y="351.20" font-size="8.6" text-anchor="end">0.8</text>
<line x1="217.50" y1="336.00" x2="220.70" y2="336.00" stroke="#111111" stroke-width="0.9"/>
<text x="215.00" y="339.00" font-size="8.6" text-anchor="end">1.0</text>
<line x1="217.50" y1="323.80" x2="220.70" y2="323.80" stroke="#111111" stroke-width="0.9"/>
<text x="215.00" y="326.80" font-size="8.6" text-anchor="end">1.2</text>
<line x1="217.50" y1="311.60" x2="220.70" y2="311.60" stroke="#111111" stroke-width="0.9"/>
<text x="215.00" y="314.60" font-size="8.6" text-anchor="end">1.4</text>
<line x1="217.50" y1="299.40" x2="220.70" y2="299.40" stroke="#111111" stroke-width="0.9"/>
<text x="215.00" y="302.40" font-size="8.6" text-anchor="end">1.6</text>
<line x1="232.40" y1="402.50" x2="232.40" y2="405.50" stroke="#111111" stroke-width="0.9"/>
<line x1="252.00" y1="402.50" x2="252.00" y2="405.50" stroke="#111111" stroke-width="0.9"/>
<line x1="271.50" y1="402.50" x2="271.50" y2="405.50" stroke="#111111" stroke-width="0.9"/>
<line x1="291.00" y1="402.50" x2="291.00" y2="405.50" stroke="#111111" stroke-width="0.9"/>
<line x1="310.50" y1="402.50" x2="310.50" y2="405.50" stroke="#111111" stroke-width="0.9"/>
<text x="196.40" y="347.00" font-size="8.6" text-anchor="middle" textLength="68.50" lengthAdjust="spacingAndGlyphs" transform="rotate(-90 196.40 347.00)" stroke="#231f20" stroke-width="0.2">pg TNF / mg protein</text>
<path d="M232.40 327.60V325.60H252.00V327.60" fill="none" stroke="#2a2a2a" stroke-width="1.0" stroke-linecap="round" stroke-linejoin="round"/>
<path d="M232.40 317.00V315.00H271.50V317.00" fill="none" stroke="#2a2a2a" stroke-width="1.0" stroke-linecap="round" stroke-linejoin="round"/>
<path d="M232.40 306.40V304.40H291.00V306.40" fill="none" stroke="#2a2a2a" stroke-width="1.0" stroke-linecap="round" stroke-linejoin="round"/>
<path d="M232.40 295.80V293.80H310.50V295.80" fill="none" stroke="#2a2a2a" stroke-width="1.0" stroke-linecap="round" stroke-linejoin="round"/>
<text x="228.10" y="323.10" font-size="7.6" textLength="27.10" lengthAdjust="spacingAndGlyphs">&lt;0.0001</text>
<text x="241.90" y="312.40" font-size="7.6" textLength="19.60" lengthAdjust="spacingAndGlyphs">0.008</text>
<text x="255.60" y="301.70" font-size="7.6" textLength="10.80" lengthAdjust="spacingAndGlyphs">0.7</text>
<text x="257.30" y="291.10" font-size="7.6" textLength="27.10" lengthAdjust="spacingAndGlyphs">&lt;0.0001</text>
<line x1="232.50" y1="362.70" x2="232.50" y2="385.40" stroke="#222" stroke-width="0.85"/>
<rect x="225.10" y="373.25" width="14.60" height="6.00" fill="#2a4c8e" stroke="#2a4c8e" stroke-width="0.6"/>
<line x1="225.10" y1="376.50" x2="239.70" y2="376.50" stroke="#111" stroke-width="1.25"/>
<circle cx="233.80" cy="355.60" r="1.2" fill="#111"/>
<circle cx="232.40" cy="363.00" r="1.2" fill="#111"/>
<circle cx="232.80" cy="365.50" r="1.2" fill="#111"/>
<circle cx="231.60" cy="368.00" r="1.2" fill="#111"/>
<circle cx="232.80" cy="370.00" r="1.2" fill="#111"/>
<circle cx="232.40" cy="372.00" r="1.2" fill="#111"/>
<circle cx="232.00" cy="374.00" r="1.2" fill="#111"/>
<circle cx="233.20" cy="375.00" r="1.2" fill="#111"/>
<circle cx="232.00" cy="377.00" r="1.2" fill="#111"/>
<circle cx="232.80" cy="378.00" r="1.2" fill="#111"/>
<circle cx="232.40" cy="380.00" r="1.2" fill="#111"/>
<circle cx="232.00" cy="382.00" r="1.2" fill="#111"/>
<circle cx="232.40" cy="384.00" r="1.2" fill="#111"/>
<circle cx="232.80" cy="385.50" r="1.2" fill="#111"/>
<line x1="252.50" y1="354.25" x2="252.50" y2="376.75" stroke="#222" stroke-width="0.85"/>
<rect x="244.60" y="360.25" width="14.80" height="12.25" fill="#ad0436" stroke="#ad0436" stroke-width="0.6"/>
<line x1="244.60" y1="366.50" x2="259.40" y2="366.50" stroke="#111" stroke-width="1.25"/>
<circle cx="252.00" cy="332.50" r="1.2" fill="#111"/>
<circle cx="252.00" cy="354.50" r="1.2" fill="#111"/>
<circle cx="252.40" cy="356.50" r="1.2" fill="#111"/>
<circle cx="251.60" cy="359.00" r="1.2" fill="#111"/>
<circle cx="252.00" cy="362.00" r="1.2" fill="#111"/>
<circle cx="252.40" cy="364.00" r="1.2" fill="#111"/>
<circle cx="251.60" cy="367.00" r="1.2" fill="#111"/>
<circle cx="252.00" cy="369.00" r="1.2" fill="#111"/>
<circle cx="252.40" cy="371.00" r="1.2" fill="#111"/>
<circle cx="252.00" cy="374.00" r="1.2" fill="#111"/>
<circle cx="251.60" cy="376.00" r="1.2" fill="#111"/>
<line x1="271.50" y1="359.50" x2="271.50" y2="381.75" stroke="#222" stroke-width="0.85"/>
<rect x="264.10" y="362.00" width="14.80" height="9.75" fill="#522270" stroke="#522270" stroke-width="0.6"/>
<line x1="264.10" y1="365.50" x2="278.90" y2="365.50" stroke="#111" stroke-width="1.25"/>
<circle cx="271.10" cy="360.00" r="1.2" fill="#111"/>
<circle cx="271.90" cy="361.00" r="1.2" fill="#111"/>
<circle cx="271.50" cy="363.00" r="1.2" fill="#111"/>
<circle cx="271.10" cy="366.00" r="1.2" fill="#111"/>
<circle cx="271.90" cy="368.00" r="1.2" fill="#111"/>
<circle cx="271.50" cy="370.00" r="1.2" fill="#111"/>
<circle cx="271.10" cy="373.00" r="1.2" fill="#111"/>
<circle cx="271.50" cy="376.00" r="1.2" fill="#111"/>
<circle cx="271.50" cy="379.00" r="1.2" fill="#111"/>
<circle cx="271.50" cy="381.50" r="1.2" fill="#111"/>
<line x1="291.50" y1="363.75" x2="291.50" y2="381.75" stroke="#222" stroke-width="0.85"/>
<rect x="283.60" y="370.75" width="14.80" height="8.50" fill="#6fb541" stroke="#6fb541" stroke-width="0.6"/>
<line x1="283.60" y1="373.50" x2="298.40" y2="373.50" stroke="#111" stroke-width="1.25"/>
<circle cx="291.00" cy="364.00" r="1.2" fill="#111"/>
<circle cx="290.60" cy="367.00" r="1.2" fill="#111"/>
<circle cx="291.40" cy="369.00" r="1.2" fill="#111"/>
<circle cx="291.00" cy="372.00" r="1.2" fill="#111"/>
<circle cx="290.60" cy="374.00" r="1.2" fill="#111"/>
<circle cx="291.40" cy="376.00" r="1.2" fill="#111"/>
<circle cx="291.00" cy="378.00" r="1.2" fill="#111"/>
<circle cx="291.00" cy="381.00" r="1.2" fill="#111"/>
<line x1="310.50" y1="395.00" x2="310.50" y2="397.80" stroke="#222" stroke-width="0.85"/>
<rect x="303.10" y="395.50" width="14.80" height="2.00" fill="#e1901c" stroke="#e1901c" stroke-width="0.6"/>
<line x1="303.10" y1="396.50" x2="317.90" y2="396.50" stroke="#111" stroke-width="1.25"/>
<circle cx="310.50" cy="395.00" r="1.2" fill="#111"/>
<circle cx="310.50" cy="396.50" r="1.2" fill="#111"/>
<circle cx="310.90" cy="397.50" r="1.2" fill="#111"/>
<text x="236.00" y="413.70" font-size="8.3" text-anchor="end" fill="#231f20" stroke="#231f20" stroke-width="0.22" transform="rotate(-45 236.00 413.70)">WT</text>
<text x="255.60" y="413.70" font-size="8.3" text-anchor="end" fill="#231f20" stroke="#231f20" stroke-width="0.22" transform="rotate(-45 255.60 413.70)">miR-146a<tspan font-size="6.4" dy="-3.1" font-style="normal" fill="#555">-/-</tspan><tspan dy="3.1"></tspan></text>
<text x="275.10" y="413.70" font-size="8.3" text-anchor="end" fill="#231f20" stroke="#231f20" stroke-width="0.22" transform="rotate(-45 275.10 413.70)">Nfkb1<tspan font-size="6.4" dy="-3.1" font-style="normal" fill="#555">-/-</tspan><tspan dy="3.1"></tspan> miR-146a<tspan font-size="6.4" dy="-3.1" font-style="normal" fill="#555">-/-</tspan><tspan dy="3.1"></tspan></text>
<text x="294.60" y="413.70" font-size="8.3" text-anchor="end" fill="#231f20" stroke="#231f20" stroke-width="0.22" transform="rotate(-45 294.60 413.70)">Il6<tspan font-size="6.4" dy="-3.1" font-style="normal" fill="#555">-/-</tspan><tspan dy="3.1"></tspan> miR-146a<tspan font-size="6.4" dy="-3.1" font-style="normal" fill="#555">-/-</tspan><tspan dy="3.1"></tspan></text>
<text x="314.10" y="413.70" font-size="8.3" text-anchor="end" fill="#231f20" stroke="#231f20" stroke-width="0.22" transform="rotate(-45 314.10 413.70)">Tnf<tspan font-size="6.4" dy="-3.1" font-style="normal" fill="#555">-/-</tspan><tspan dy="3.1"></tspan> miR-146a<tspan font-size="6.4" dy="-3.1" font-style="normal" fill="#555">-/-</tspan><tspan dy="3.1"></tspan></text>
<text x="337.00" y="277.70" font-size="12" font-weight="bold" fill="#000">E</text>
<line x1="390.50" y1="333.00" x2="390.50" y2="402.90" stroke="#111111" stroke-width="1.4"/>
<line x1="387.40" y1="402.30" x2="390.50" y2="402.30" stroke="#111111" stroke-width="0.9"/>
<text x="385.00" y="405.30" font-size="8.6" text-anchor="end">0</text>
<line x1="387.40" y1="383.20" x2="390.50" y2="383.20" stroke="#111111" stroke-width="0.9"/>
<text x="385.00" y="386.20" font-size="8.6" text-anchor="end">10</text>
<line x1="387.40" y1="364.10" x2="390.50" y2="364.10" stroke="#111111" stroke-width="0.9"/>
<text x="385.00" y="367.10" font-size="8.6" text-anchor="end">20</text>
<line x1="387.40" y1="345.00" x2="390.50" y2="345.00" stroke="#111111" stroke-width="0.9"/>
<text x="385.00" y="348.00" font-size="8.6" text-anchor="end">30</text>
<line x1="389.90" y1="402.30" x2="414.10" y2="402.30" stroke="#111111" stroke-width="1.4"/>
<rect x="393.25" y="400.39" width="7.30" height="1.91" fill="#2a4c8e"/>
<rect x="404.05" y="400.77" width="7.30" height="1.53" fill="#a6022c"/>
<line x1="396.90" y1="399.89" x2="396.90" y2="400.89" stroke="#000" stroke-width="0.9"/>
<line x1="394.70" y1="399.89" x2="399.10" y2="399.89" stroke="#000" stroke-width="1.0"/>
<line x1="407.70" y1="400.39" x2="407.70" y2="401.15" stroke="#000" stroke-width="0.9"/>
<line x1="405.70" y1="400.39" x2="409.70" y2="400.39" stroke="#000" stroke-width="1.0"/>
<line x1="405.70" y1="401.15" x2="409.70" y2="401.15" stroke="#000" stroke-width="1.0"/>
<line x1="396.90" y1="402.30" x2="396.90" y2="405.10" stroke="#111111" stroke-width="0.9"/>
<line x1="407.70" y1="402.30" x2="407.70" y2="405.10" stroke="#111111" stroke-width="0.9"/>
<text x="402.30" y="326.50" font-size="8.0" text-anchor="middle">LSK</text>
<text x="402.30" y="338.10" font-size="7.9" text-anchor="middle">0.6</text>
<path d="M396.90 343.40V341.10H407.70V343.40" fill="none" stroke="#2a2a2a" stroke-width="1.0" stroke-linecap="round" stroke-linejoin="round"/>
<text x="400.50" y="413.50" font-size="8.3" text-anchor="end" fill="#231f20" stroke="#231f20" stroke-width="0.22" transform="rotate(-45 400.50 413.50)">WT</text>
<text x="411.30" y="413.50" font-size="8.3" text-anchor="end" fill="#231f20" stroke="#231f20" stroke-width="0.22" transform="rotate(-45 411.30 413.50)"><tspan font-style="italic">miR-146a</tspan><tspan font-size="6.4" dy="-3.1" font-style="normal" fill="#555">-/-</tspan><tspan dy="3.1"></tspan></text>
<line x1="417.80" y1="402.30" x2="441.40" y2="402.30" stroke="#111111" stroke-width="1.4"/>
<rect x="420.55" y="400.39" width="7.30" height="1.91" fill="#2a4c8e"/>
<rect x="431.35" y="390.65" width="7.30" height="11.65" fill="#a6022c"/>
<line x1="424.20" y1="399.89" x2="424.20" y2="400.89" stroke="#000" stroke-width="0.9"/>
<line x1="422.00" y1="399.89" x2="426.40" y2="399.89" stroke="#000" stroke-width="1.0"/>
<line x1="435.00" y1="388.93" x2="435.00" y2="392.37" stroke="#000" stroke-width="0.9"/>
<line x1="433.00" y1="388.93" x2="437.00" y2="388.93" stroke="#000" stroke-width="1.0"/>
<line x1="433.00" y1="392.37" x2="437.00" y2="392.37" stroke="#000" stroke-width="1.0"/>
<line x1="424.20" y1="402.30" x2="424.20" y2="405.10" stroke="#111111" stroke-width="0.9"/>
<line x1="435.00" y1="402.30" x2="435.00" y2="405.10" stroke="#111111" stroke-width="0.9"/>
<text x="429.60" y="326.50" font-size="8.0" text-anchor="middle">GM</text>
<text x="429.60" y="338.10" font-size="7.9" text-anchor="middle">0.01</text>
<path d="M424.20 343.40V341.10H435.00V343.40" fill="none" stroke="#2a2a2a" stroke-width="1.0" stroke-linecap="round" stroke-linejoin="round"/>
<text x="427.80" y="413.50" font-size="8.3" text-anchor="end" fill="#231f20" stroke="#231f20" stroke-width="0.22" transform="rotate(-45 427.80 413.50)">WT</text>
<text x="438.60" y="413.50" font-size="8.3" text-anchor="end" fill="#231f20" stroke="#231f20" stroke-width="0.22" transform="rotate(-45 438.60 413.50)"><tspan font-style="italic">miR-146a</tspan><tspan font-size="6.4" dy="-3.1" font-style="normal" fill="#555">-/-</tspan><tspan dy="3.1"></tspan></text>
<line x1="445.10" y1="402.30" x2="468.70" y2="402.30" stroke="#111111" stroke-width="1.4"/>
<rect x="447.85" y="400.39" width="7.30" height="1.91" fill="#2a4c8e"/>
<rect x="458.65" y="392.75" width="7.30" height="9.55" fill="#a6022c"/>
<line x1="451.50" y1="399.89" x2="451.50" y2="400.89" stroke="#000" stroke-width="0.9"/>
<line x1="449.30" y1="399.89" x2="453.70" y2="399.89" stroke="#000" stroke-width="1.0"/>
<line x1="462.30" y1="391.41" x2="462.30" y2="394.09" stroke="#000" stroke-width="0.9"/>
<line x1="460.30" y1="391.41" x2="464.30" y2="391.41" stroke="#000" stroke-width="1.0"/>
<line x1="460.30" y1="394.09" x2="464.30" y2="394.09" stroke="#000" stroke-width="1.0"/>
<line x1="451.50" y1="402.30" x2="451.50" y2="405.10" stroke="#111111" stroke-width="0.9"/>
<line x1="462.30" y1="402.30" x2="462.30" y2="405.10" stroke="#111111" stroke-width="0.9"/>
<text x="456.90" y="326.50" font-size="8.0" text-anchor="middle">B</text>
<text x="456.90" y="338.10" font-size="7.9" text-anchor="middle">0.005</text>
<path d="M451.50 343.40V341.10H462.30V343.40" fill="none" stroke="#2a2a2a" stroke-width="1.0" stroke-linecap="round" stroke-linejoin="round"/>
<text x="455.10" y="413.50" font-size="8.3" text-anchor="end" fill="#231f20" stroke="#231f20" stroke-width="0.22" transform="rotate(-45 455.10 413.50)">WT</text>
<text x="465.90" y="413.50" font-size="8.3" text-anchor="end" fill="#231f20" stroke="#231f20" stroke-width="0.22" transform="rotate(-45 465.90 413.50)"><tspan font-style="italic">miR-146a</tspan><tspan font-size="6.4" dy="-3.1" font-style="normal" fill="#555">-/-</tspan><tspan dy="3.1"></tspan></text>
<line x1="472.40" y1="402.30" x2="496.00" y2="402.30" stroke="#111111" stroke-width="1.4"/>
<rect x="475.15" y="400.39" width="7.30" height="1.91" fill="#2a4c8e"/>
<rect x="485.95" y="357.03" width="7.30" height="45.27" fill="#a6022c"/>
<line x1="478.80" y1="399.89" x2="478.80" y2="400.89" stroke="#000" stroke-width="0.9"/>
<line x1="476.60" y1="399.89" x2="481.00" y2="399.89" stroke="#000" stroke-width="1.0"/>
<line x1="489.60" y1="346.34" x2="489.60" y2="367.16" stroke="#000" stroke-width="0.9"/>
<line x1="487.60" y1="346.34" x2="491.60" y2="346.34" stroke="#000" stroke-width="1.0"/>
<line x1="487.60" y1="367.16" x2="491.60" y2="367.16" stroke="#000" stroke-width="1.0"/>
<line x1="478.80" y1="402.30" x2="478.80" y2="405.10" stroke="#111111" stroke-width="0.9"/>
<line x1="489.60" y1="402.30" x2="489.60" y2="405.10" stroke="#111111" stroke-width="0.9"/>
<text x="484.20" y="326.50" font-size="8.0" text-anchor="middle">T</text>
<text x="484.20" y="338.10" font-size="7.9" text-anchor="middle">0.1</text>
<path d="M478.80 343.40V341.10H489.60V343.40" fill="none" stroke="#2a2a2a" stroke-width="1.0" stroke-linecap="round" stroke-linejoin="round"/>
<text x="482.40" y="413.50" font-size="8.3" text-anchor="end" fill="#231f20" stroke="#231f20" stroke-width="0.22" transform="rotate(-45 482.40 413.50)">WT</text>
<text x="493.20" y="413.50" font-size="8.3" text-anchor="end" fill="#231f20" stroke="#231f20" stroke-width="0.22" transform="rotate(-45 493.20 413.50)"><tspan font-style="italic">miR-146a</tspan><tspan font-size="6.4" dy="-3.1" font-style="normal" fill="#555">-/-</tspan><tspan dy="3.1"></tspan></text>
<text x="356.60" y="367.80" font-size="8.3" text-anchor="middle" textLength="76.50" lengthAdjust="spacingAndGlyphs" transform="rotate(-90 356.60 367.80)" stroke="#231f20" stroke-width="0.2">Il6 relative expression</text>
<text x="370.30" y="366.80" font-size="8.3" text-anchor="middle" textLength="53.00" lengthAdjust="spacingAndGlyphs" transform="rotate(-90 370.30 366.80)" stroke="#231f20" stroke-width="0.2">(mean ± SEM)</text>
<text x="7.30" y="492.60" font-size="12" font-weight="bold" fill="#000">F</text>
<line x1="54.80" y1="527.80" x2="54.80" y2="601.20" stroke="#111111" stroke-width="1.4"/>
<line x1="51.70" y1="600.60" x2="54.80" y2="600.60" stroke="#111111" stroke-width="0.9"/>
<text x="49.30" y="603.60" font-size="8.6" text-anchor="end">0</text>
<line x1="51.70" y1="583.14" x2="54.80" y2="583.14" stroke="#111111" stroke-width="0.9"/>
<text x="49.30" y="586.14" font-size="8.6" text-anchor="end">2</text>
<line x1="51.70" y1="565.68" x2="54.80" y2="565.68" stroke="#111111" stroke-width="0.9"/>
<text x="49.30" y="568.68" font-size="8.6" text-anchor="end">4</text>
<line x1="51.70" y1="548.22" x2="54.80" y2="548.22" stroke="#111111" stroke-width="0.9"/>
<text x="49.30" y="551.22" font-size="8.6" text-anchor="end">6</text>
<line x1="51.70" y1="530.76" x2="54.80" y2="530.76" stroke="#111111" stroke-width="0.9"/>
<text x="49.30" y="533.76" font-size="8.6" text-anchor="end">8</text>
<line x1="54.20" y1="600.60" x2="78.20" y2="600.60" stroke="#111111" stroke-width="1.4"/>
<rect x="57.85" y="591.87" width="7.30" height="8.73" fill="#2a4c8e"/>
<rect x="68.35" y="591.87" width="7.30" height="8.73" fill="#a6022c"/>
<line x1="61.50" y1="591.35" x2="61.50" y2="592.39" stroke="#000" stroke-width="0.9"/>
<line x1="59.30" y1="591.35" x2="63.70" y2="591.35" stroke="#000" stroke-width="1.0"/>
<line x1="72.00" y1="590.47" x2="72.00" y2="592.74" stroke="#000" stroke-width="0.9"/>
<line x1="70.00" y1="590.47" x2="74.00" y2="590.47" stroke="#000" stroke-width="1.0"/>
<line x1="70.00" y1="592.74" x2="74.00" y2="592.74" stroke="#000" stroke-width="1.0"/>
<line x1="61.50" y1="600.60" x2="61.50" y2="603.40" stroke="#111111" stroke-width="0.9"/>
<line x1="72.00" y1="600.60" x2="72.00" y2="603.40" stroke="#111111" stroke-width="0.9"/>
<text x="66.75" y="521.30" font-size="8.0" text-anchor="middle">LSK</text>
<text x="66.75" y="536.20" font-size="7.9" text-anchor="middle">0.7</text>
<path d="M61.50 541.20V538.90H72.00V541.20" fill="none" stroke="#2a2a2a" stroke-width="1.0" stroke-linecap="round" stroke-linejoin="round"/>
<text x="65.10" y="611.80" font-size="8.3" text-anchor="end" fill="#231f20" stroke="#231f20" stroke-width="0.22" transform="rotate(-45 65.10 611.80)">WT</text>
<text x="75.60" y="611.80" font-size="8.3" text-anchor="end" fill="#231f20" stroke="#231f20" stroke-width="0.22" transform="rotate(-45 75.60 611.80)"><tspan font-style="italic">miR-146a</tspan><tspan font-size="6.4" dy="-3.1" font-style="normal" fill="#555">-/-</tspan><tspan dy="3.1"></tspan></text>
<line x1="82.50" y1="600.60" x2="105.90" y2="600.60" stroke="#111111" stroke-width="1.4"/>
<rect x="85.55" y="591.87" width="7.30" height="8.73" fill="#2a4c8e"/>
<rect x="96.05" y="555.20" width="7.30" height="45.40" fill="#a6022c"/>
<line x1="89.20" y1="591.35" x2="89.20" y2="592.39" stroke="#000" stroke-width="0.9"/>
<line x1="87.00" y1="591.35" x2="91.40" y2="591.35" stroke="#000" stroke-width="1.0"/>
<line x1="99.70" y1="548.66" x2="99.70" y2="562.36" stroke="#000" stroke-width="0.9"/>
<line x1="97.70" y1="548.66" x2="101.70" y2="548.66" stroke="#000" stroke-width="1.0"/>
<line x1="97.70" y1="562.36" x2="101.70" y2="562.36" stroke="#000" stroke-width="1.0"/>
<line x1="89.20" y1="600.60" x2="89.20" y2="603.40" stroke="#111111" stroke-width="0.9"/>
<line x1="99.70" y1="600.60" x2="99.70" y2="603.40" stroke="#111111" stroke-width="0.9"/>
<text x="94.45" y="521.30" font-size="8.0" text-anchor="middle">GM</text>
<text x="94.45" y="536.20" font-size="7.9" text-anchor="middle">0.03</text>
<path d="M89.20 541.20V538.90H99.70V541.20" fill="none" stroke="#2a2a2a" stroke-width="1.0" stroke-linecap="round" stroke-linejoin="round"/>
<text x="92.80" y="611.80" font-size="8.3" text-anchor="end" fill="#231f20" stroke="#231f20" stroke-width="0.22" transform="rotate(-45 92.80 611.80)">WT</text>
<text x="103.30" y="611.80" font-size="8.3" text-anchor="end" fill="#231f20" stroke="#231f20" stroke-width="0.22" transform="rotate(-45 103.30 611.80)"><tspan font-style="italic">miR-146a</tspan><tspan font-size="6.4" dy="-3.1" font-style="normal" fill="#555">-/-</tspan><tspan dy="3.1"></tspan></text>
<line x1="110.00" y1="600.60" x2="133.40" y2="600.60" stroke="#111111" stroke-width="1.4"/>
<rect x="113.05" y="591.87" width="7.30" height="8.73" fill="#2a4c8e"/>
<rect x="123.55" y="548.66" width="7.30" height="51.94" fill="#a6022c"/>
<line x1="116.70" y1="591.35" x2="116.70" y2="592.39" stroke="#000" stroke-width="0.9"/>
<line x1="114.50" y1="591.35" x2="118.90" y2="591.35" stroke="#000" stroke-width="1.0"/>
<line x1="127.20" y1="544.03" x2="127.20" y2="554.77" stroke="#000" stroke-width="0.9"/>
<line x1="125.20" y1="544.03" x2="129.20" y2="544.03" stroke="#000" stroke-width="1.0"/>
<line x1="125.20" y1="554.77" x2="129.20" y2="554.77" stroke="#000" stroke-width="1.0"/>
<line x1="116.70" y1="600.60" x2="116.70" y2="603.40" stroke="#111111" stroke-width="0.9"/>
<line x1="127.20" y1="600.60" x2="127.20" y2="603.40" stroke="#111111" stroke-width="0.9"/>
<text x="121.95" y="521.30" font-size="8.0" text-anchor="middle">B</text>
<text x="121.95" y="536.20" font-size="7.9" text-anchor="middle">0.004</text>
<path d="M116.70 541.20V538.90H127.20V541.20" fill="none" stroke="#2a2a2a" stroke-width="1.0" stroke-linecap="round" stroke-linejoin="round"/>
<text x="120.30" y="611.80" font-size="8.3" text-anchor="end" fill="#231f20" stroke="#231f20" stroke-width="0.22" transform="rotate(-45 120.30 611.80)">WT</text>
<text x="130.80" y="611.80" font-size="8.3" text-anchor="end" fill="#231f20" stroke="#231f20" stroke-width="0.22" transform="rotate(-45 130.80 611.80)"><tspan font-style="italic">miR-146a</tspan><tspan font-size="6.4" dy="-3.1" font-style="normal" fill="#555">-/-</tspan><tspan dy="3.1"></tspan></text>
<line x1="137.50" y1="600.60" x2="160.90" y2="600.60" stroke="#111111" stroke-width="1.4"/>
<rect x="140.55" y="591.87" width="7.30" height="8.73" fill="#2a4c8e"/>
<rect x="151.05" y="552.15" width="7.30" height="48.45" fill="#a6022c"/>
<line x1="144.20" y1="591.35" x2="144.20" y2="592.39" stroke="#000" stroke-width="0.9"/>
<line x1="142.00" y1="591.35" x2="146.40" y2="591.35" stroke="#000" stroke-width="1.0"/>
<line x1="154.70" y1="545.16" x2="154.70" y2="559.66" stroke="#000" stroke-width="0.9"/>
<line x1="152.70" y1="545.16" x2="156.70" y2="545.16" stroke="#000" stroke-width="1.0"/>
<line x1="152.70" y1="559.66" x2="156.70" y2="559.66" stroke="#000" stroke-width="1.0"/>
<line x1="144.20" y1="600.60" x2="144.20" y2="603.40" stroke="#111111" stroke-width="0.9"/>
<line x1="154.70" y1="600.60" x2="154.70" y2="603.40" stroke="#111111" stroke-width="0.9"/>
<text x="149.45" y="521.30" font-size="8.0" text-anchor="middle">T</text>
<text x="149.45" y="536.20" font-size="7.9" text-anchor="middle">0.05</text>
<path d="M144.20 541.20V538.90H154.70V541.20" fill="none" stroke="#2a2a2a" stroke-width="1.0" stroke-linecap="round" stroke-linejoin="round"/>
<text x="147.80" y="611.80" font-size="8.3" text-anchor="end" fill="#231f20" stroke="#231f20" stroke-width="0.22" transform="rotate(-45 147.80 611.80)">WT</text>
<text x="158.30" y="611.80" font-size="8.3" text-anchor="end" fill="#231f20" stroke="#231f20" stroke-width="0.22" transform="rotate(-45 158.30 611.80)"><tspan font-style="italic">miR-146a</tspan><tspan font-size="6.4" dy="-3.1" font-style="normal" fill="#555">-/-</tspan><tspan dy="3.1"></tspan></text>
<text x="24.80" y="563.90" font-size="8.3" text-anchor="middle" textLength="77.60" lengthAdjust="spacingAndGlyphs" transform="rotate(-90 24.80 563.90)" stroke="#231f20" stroke-width="0.2">Tnf relative expression</text>
<text x="38.80" y="564.00" font-size="8.3" text-anchor="middle" textLength="53.00" lengthAdjust="spacingAndGlyphs" transform="rotate(-90 38.80 564.00)" stroke="#231f20" stroke-width="0.2">(mean ± SEM)</text>
<text x="176.00" y="493.10" font-size="12" font-weight="bold" fill="#000">G</text>
<line x1="220.80" y1="506.50" x2="220.80" y2="601.40" stroke="#111111" stroke-width="1.4"/>
<line x1="220.20" y1="600.60" x2="270.90" y2="600.60" stroke="#111111" stroke-width="1.4"/>
<line x1="217.60" y1="596.00" x2="220.80" y2="596.00" stroke="#111111" stroke-width="0.9"/>
<text x="215.00" y="599.00" font-size="8.6" text-anchor="end">0</text>
<line x1="217.60" y1="574.70" x2="220.80" y2="574.70" stroke="#111111" stroke-width="0.9"/>
<text x="215.00" y="577.70" font-size="8.6" text-anchor="end">2</text>
<line x1="217.60" y1="553.40" x2="220.80" y2="553.40" stroke="#111111" stroke-width="0.9"/>
<text x="215.00" y="556.40" font-size="8.6" text-anchor="end">4</text>
<line x1="217.60" y1="532.10" x2="220.80" y2="532.10" stroke="#111111" stroke-width="0.9"/>
<text x="215.00" y="535.10" font-size="8.6" text-anchor="end">6</text>
<line x1="217.60" y1="510.80" x2="220.80" y2="510.80" stroke="#111111" stroke-width="0.9"/>
<text x="215.00" y="513.80" font-size="8.6" text-anchor="end">8</text>
<line x1="234.60" y1="600.80" x2="234.60" y2="603.60" stroke="#111111" stroke-width="0.9"/>
<line x1="257.50" y1="600.80" x2="257.50" y2="603.60" stroke="#111111" stroke-width="0.9"/>
<text x="203.60" y="553.10" font-size="8.8" text-anchor="middle" textLength="71.00" lengthAdjust="spacingAndGlyphs" transform="rotate(-90 203.60 553.10)" stroke="#231f20" stroke-width="0.2">Secreted IL6 (pg/ml)</text>
<path d="M234.60 515.00V513.20H257.50V515.00" fill="none" stroke="#2a2a2a" stroke-width="1.0" stroke-linecap="round" stroke-linejoin="round"/>
<text x="238.80" y="511.10" font-size="7.6" textLength="15.40" lengthAdjust="spacingAndGlyphs">0.02</text>
<line x1="234.50" y1="586.50" x2="234.50" y2="593.50" stroke="#222" stroke-width="0.85"/>
<rect x="225.95" y="587.90" width="17.30" height="4.30" fill="#2a4c8e" stroke="#2a4c8e" stroke-width="0.6"/>
<line x1="225.95" y1="590.50" x2="243.25" y2="590.50" stroke="#111" stroke-width="1.25"/>
<circle cx="233.40" cy="586.60" r="1.2" fill="#111"/>
<circle cx="235.40" cy="587.40" r="1.2" fill="#111"/>
<circle cx="234.60" cy="589.50" r="1.2" fill="#111"/>
<circle cx="232.60" cy="594.00" r="1.2" fill="#111"/>
<circle cx="235.80" cy="591.00" r="1.2" fill="#111"/>
<circle cx="234.20" cy="592.50" r="1.2" fill="#111"/>
<line x1="257.50" y1="554.00" x2="257.50" y2="566.00" stroke="#222" stroke-width="0.85"/>
<rect x="248.85" y="554.00" width="17.30" height="11.50" fill="#a6022c" stroke="#a6022c" stroke-width="0.6"/>
<line x1="248.85" y1="565.50" x2="266.15" y2="565.50" stroke="#111" stroke-width="1.25"/>
<circle cx="257.50" cy="520.80" r="1.2" fill="#111"/>
<circle cx="255.10" cy="566.20" r="1.2" fill="#111"/>
<circle cx="257.10" cy="565.60" r="1.2" fill="#111"/>
<circle cx="259.50" cy="565.20" r="1.2" fill="#111"/>
<text x="238.20" y="612.00" font-size="8.3" text-anchor="end" fill="#231f20" stroke="#231f20" stroke-width="0.22" transform="rotate(-45 238.20 612.00)">WT</text>
<text x="261.10" y="612.00" font-size="8.3" text-anchor="end" fill="#231f20" stroke="#231f20" stroke-width="0.22" transform="rotate(-45 261.10 612.00)"><tspan font-style="italic">miR-146a</tspan><tspan font-size="6.4" dy="-3.1" font-style="normal" fill="#555">-/-</tspan><tspan dy="3.1"></tspan></text>
<text x="216.30" y="654.40" font-size="10" textLength="59.30" lengthAdjust="spacingAndGlyphs">BMDM genotype</text>
<text x="292.30" y="493.70" font-size="12" font-weight="bold" fill="#000">H</text>
<line x1="336.90" y1="506.50" x2="336.90" y2="601.10" stroke="#111111" stroke-width="1.4"/>
<line x1="336.30" y1="600.50" x2="462.50" y2="600.50" stroke="#111111" stroke-width="1.4"/>
<line x1="333.60" y1="596.25" x2="336.90" y2="596.25" stroke="#111111" stroke-width="0.9"/>
<text x="331.00" y="599.25" font-size="8.6" text-anchor="end">0</text>
<line x1="333.60" y1="577.95" x2="336.90" y2="577.95" stroke="#111111" stroke-width="0.9"/>
<text x="331.00" y="580.95" font-size="8.6" text-anchor="end">10</text>
<line x1="333.60" y1="559.65" x2="336.90" y2="559.65" stroke="#111111" stroke-width="0.9"/>
<text x="331.00" y="562.65" font-size="8.6" text-anchor="end">20</text>
<line x1="333.60" y1="541.35" x2="336.90" y2="541.35" stroke="#111111" stroke-width="0.9"/>
<text x="331.00" y="544.35" font-size="8.6" text-anchor="end">30</text>
<line x1="333.60" y1="523.05" x2="336.90" y2="523.05" stroke="#111111" stroke-width="0.9"/>
<text x="331.00" y="526.05" font-size="8.6" text-anchor="end">40</text>
<line x1="370.75" y1="600.50" x2="370.75" y2="603.30" stroke="#111111" stroke-width="0.9"/>
<line x1="428.00" y1="600.50" x2="428.00" y2="603.30" stroke="#111111" stroke-width="0.9"/>
<text x="312.20" y="557.20" font-size="8.8" text-anchor="middle" textLength="72.30" lengthAdjust="spacingAndGlyphs" transform="rotate(-90 312.20 557.20)" stroke="#231f20" stroke-width="0.2">Secreted TNF (pg/ml)</text>
<line x1="360.50" y1="577.80" x2="360.50" y2="585.00" stroke="#222" stroke-width="0.85"/>
<rect x="350.85" y="581.80" width="19.30" height="0.80" fill="#cfcfcf" stroke="#cfcfcf" stroke-width="0.6"/>
<line x1="350.85" y1="582.50" x2="370.15" y2="582.50" stroke="#111" stroke-width="1.25"/>
<circle cx="360.50" cy="578.00" r="1.2" fill="#111"/>
<circle cx="360.50" cy="584.00" r="1.2" fill="#111"/>
<line x1="381.50" y1="560.50" x2="381.50" y2="566.00" stroke="#222" stroke-width="0.85"/>
<rect x="372.15" y="562.00" width="19.30" height="3.00" fill="#6db545" stroke="#4f9a2e" stroke-width="0.6"/>
<line x1="372.15" y1="563.50" x2="391.45" y2="563.50" stroke="#111" stroke-width="1.25"/>
<circle cx="381.80" cy="560.50" r="1.2" fill="#111"/>
<circle cx="381.80" cy="565.80" r="1.2" fill="#111"/>
<line x1="417.50" y1="582.70" x2="417.50" y2="588.00" stroke="#222" stroke-width="0.85"/>
<rect x="407.95" y="584.80" width="19.30" height="0.80" fill="#cfcfcf" stroke="#cfcfcf" stroke-width="0.6"/>
<line x1="407.95" y1="585.50" x2="427.25" y2="585.50" stroke="#111" stroke-width="1.25"/>
<circle cx="417.60" cy="583.00" r="1.2" fill="#111"/>
<circle cx="417.60" cy="585.00" r="1.2" fill="#111"/>
<circle cx="417.60" cy="587.50" r="1.2" fill="#111"/>
<line x1="438.50" y1="523.40" x2="438.50" y2="544.40" stroke="#222" stroke-width="0.85"/>
<rect x="429.15" y="529.20" width="19.30" height="11.40" fill="#6db545" stroke="#4f9a2e" stroke-width="0.6"/>
<line x1="429.15" y1="535.50" x2="448.45" y2="535.50" stroke="#111" stroke-width="1.25"/>
<circle cx="438.80" cy="524.50" r="1.2" fill="#111"/>
<circle cx="438.80" cy="531.00" r="1.2" fill="#111"/>
<circle cx="438.80" cy="539.40" r="1.2" fill="#111"/>
<circle cx="438.80" cy="543.80" r="1.2" fill="#111"/>
<path d="M360.30 558.30V556.30H382.00V558.30" fill="none" stroke="#2a2a2a" stroke-width="1.0" stroke-linecap="round" stroke-linejoin="round"/>
<path d="M360.30 546.70V544.70H417.60V546.70" fill="none" stroke="#2a2a2a" stroke-width="1.0" stroke-linecap="round" stroke-linejoin="round"/>
<path d="M417.60 521.20V519.20H438.80V521.20" fill="none" stroke="#2a2a2a" stroke-width="1.0" stroke-linecap="round" stroke-linejoin="round"/>
<path d="M381.80 509.60V507.60H438.80V509.60" fill="none" stroke="#2a2a2a" stroke-width="1.0" stroke-linecap="round" stroke-linejoin="round"/>
<text x="360.90" y="553.70" font-size="7.6" textLength="19.60" lengthAdjust="spacingAndGlyphs">0.001</text>
<text x="383.70" y="542.10" font-size="7.6" textLength="10.00" lengthAdjust="spacingAndGlyphs">0.1</text>
<text x="414.10" y="516.90" font-size="7.6" textLength="27.40" lengthAdjust="spacingAndGlyphs">&lt;0.0001</text>
<text x="400.30" y="505.10" font-size="7.6" textLength="19.30" lengthAdjust="spacingAndGlyphs">0.003</text>
<text x="374.35" y="611.70" font-size="8.3" text-anchor="end" fill="#231f20" stroke="#231f20" stroke-width="0.22" transform="rotate(-45 374.35 611.70)">WT</text>
<text x="431.60" y="611.70" font-size="8.3" text-anchor="end" fill="#231f20" stroke="#231f20" stroke-width="0.22" transform="rotate(-45 431.60 611.70)"><tspan font-style="italic">miR-146a</tspan><tspan font-size="6.4" dy="-3.1" font-style="normal" fill="#555">-/-</tspan><tspan dy="3.1"></tspan></text>
<text x="370.10" y="654.20" font-size="10" textLength="58.80" lengthAdjust="spacingAndGlyphs">BMDM genotype</text>
<text x="465.80" y="544.00" font-size="7.6" textLength="28.80" lengthAdjust="spacingAndGlyphs">IL6 dose</text>
<line x1="469.50" y1="549.00" x2="469.50" y2="558.60" stroke="#333" stroke-width="0.7"/>
<rect x="465.20" y="551.10" width="8.60" height="5.20" fill="#cfcfcf"/>
<line x1="465.20" y1="553.60" x2="473.80" y2="553.60" stroke="#111" stroke-width="1.2"/>
<circle cx="469.50" cy="550.00" r="0.8" fill="#111"/>
<circle cx="469.50" cy="557.50" r="0.8" fill="#111"/>
<text x="477.00" y="555.90" font-size="7.6" textLength="26.80" lengthAdjust="spacingAndGlyphs">0 ng/ml</text>
<line x1="469.50" y1="560.40" x2="469.50" y2="569.60" stroke="#333" stroke-width="0.7"/>
<rect x="465.20" y="561.80" width="8.60" height="5.70" fill="#6db545" stroke="#4f9a2e" stroke-width="0.5"/>
<line x1="465.20" y1="564.60" x2="473.80" y2="564.60" stroke="#111" stroke-width="1.2"/>
<circle cx="469.50" cy="561.20" r="0.8" fill="#111"/>
<circle cx="469.50" cy="568.50" r="0.8" fill="#111"/>
<text x="477.50" y="566.80" font-size="7.6" textLength="35.00" lengthAdjust="spacingAndGlyphs">100 ng/ml</text>
<rect x="0.5" y="0.5" width="519" height="663" fill="none" stroke="#000" stroke-width="1"/>
<line x1="518.5" y1="0" x2="518.5" y2="664" stroke="#000" stroke-width="1" stroke-opacity="0.35"/>
<line x1="0" y1="662.5" x2="520" y2="662.5" stroke="#000" stroke-width="1" stroke-opacity="0.35"/>
</svg>
</body></html>
